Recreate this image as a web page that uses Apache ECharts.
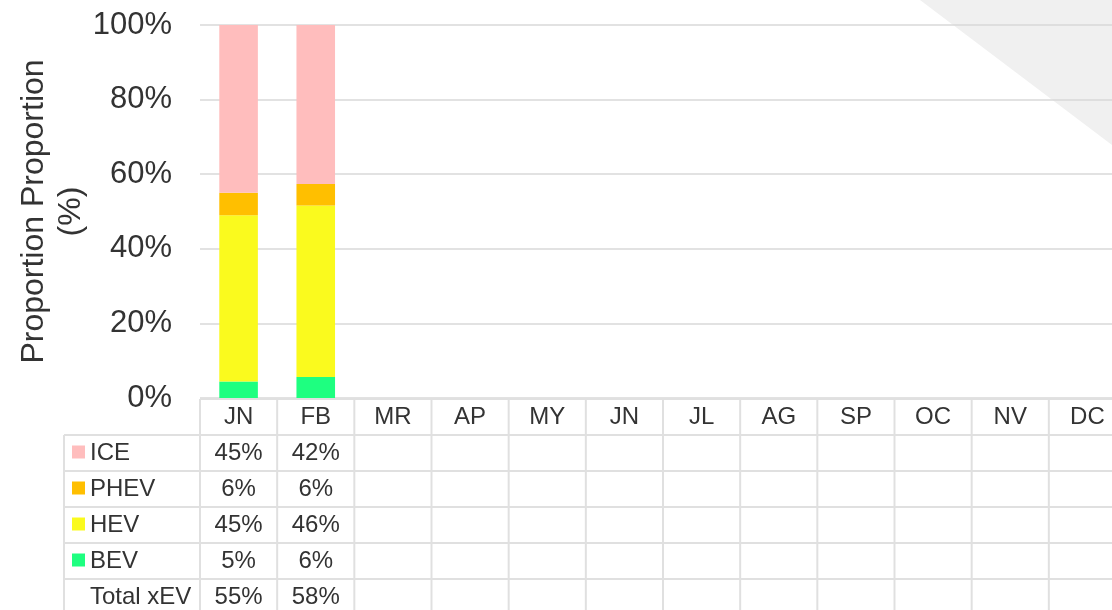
<!DOCTYPE html>
<html>
<head>
<meta charset="utf-8">
<title>xEV proportion</title>
<script src="https://cdn.jsdelivr.net/npm/echarts@6/dist/echarts.min.js"></script>
<style>
  html, body { margin: 0; padding: 0; background: #fff; }
  #wrap { position: relative; width: 1112px; height: 610px; overflow: hidden; }
  /* grey corner triangle, sits under the transparent chart canvas */
  #corner {
    position: absolute; left: 0; top: 0; width: 1112px; height: 610px;
    background: #f0f0f0;
    clip-path: polygon(920px 0, 1112px 0, 1112px 145px);
  }
  /* chart is a bit wider than the window: the last column is cut off */
  #main { position: absolute; left: 0; top: 0; width: 1128px; height: 610px; }
</style>
</head>
<body>
<div id="wrap">
  <div id="corner"></div>
  <div id="main"></div>
</div>
<script>
// months (categories)
var months = ['JN', 'FB', 'MR', 'AP', 'MY', 'JN', 'JL', 'AG', 'SP', 'OC', 'NV', 'DC'];
var yTicks = [0, 20, 40, 60, 80, 100];

// stacked shares (%), only JN and FB have data
var bev  = [4.4, 5.6];
var hev  = [44.6, 46.0];
var phev = [6.0, 5.8];
var ice  = [45.0, 42.6];

// table text, as printed under the chart
var iceText   = ['45%', '42%'];
var phevText  = ['6%', '6%'];
var hevText   = ['45%', '46%'];
var bevText   = ['5%', '6%'];
var totalText = ['55%', '58%'];

var colors = { ICE: '#ffbdbd', PHEV: '#ffbf00', HEV: '#fafa1e', BEV: '#1eff80' };
var font = '"Liberation Sans", Arial, sans-serif';
var textColor = '#333333';
var lineColor = '#e0e0e0';

var chart = echarts.init(document.getElementById('main'));

function barSeries(name, data) {
  return {
    name: name,
    type: 'bar',
    stack: 'share',
    barWidth: '50%',
    itemStyle: { color: colors[name] },
    data: data
  };
}

var option = {
  animation: false,
  backgroundColor: 'transparent',
  grid: { left: 200, top: 25, bottom: 212, right: 2 },
  xAxis: {
    type: 'category',
    data: months,
    axisLine: { show: false },
    axisTick: { show: false },
    axisLabel: {
      interval: 0,
      margin: 19,
      verticalAlign: 'middle',
      fontFamily: font,
      fontSize: 24,
      color: textColor
    }
  },
  yAxis: {
    type: 'value',
    min: 0,
    max: 100,
    interval: 20,
    name: 'Proportion Proportion\n(%)',
    nameLocation: 'middle',
    nameGap: 110,
    nameMoveOverlap: false,
    nameTextStyle: { fontFamily: font, fontSize: 32, lineHeight: 37, color: textColor },
    axisLabel: {
      margin: 28,
      fontFamily: font,
      fontSize: 31,
      color: textColor,
      formatter: function (v) { return yTicks.indexOf(v) >= 0 ? v + '%' : ''; }
    },
    splitLine: { lineStyle: { color: '#d9d9d9', width: 1.5 } }
  },
  series: [
    barSeries('BEV', bev),
    barSeries('HEV', hev),
    barSeries('PHEV', phev),
    barSeries('ICE', ice)
  ]
};
chart.setOption(option);

// data table under the plot, lined up with the category bands
function buildTable() {
  var x0 = chart.convertToPixel({ xAxisIndex: 0 }, 0);
  var x1 = chart.convertToPixel({ xAxisIndex: 0 }, 1);
  var bw = x1 - x0;
  var left = x0 - bw / 2;
  var right = left + bw * months.length;
  var top = chart.convertToPixel({ yAxisIndex: 0 }, 0) + 1;
  var rowH = 36;
  var labelLeft = 64;

  var rows = [
    { name: 'ICE', color: colors.ICE, text: iceText },
    { name: 'PHEV', color: colors.PHEV, text: phevText },
    { name: 'HEV', color: colors.HEV, text: hevText },
    { name: 'BEV', color: colors.BEV, text: bevText },
    { name: 'Total xEV', color: null, text: totalText }
  ];
  var bottom = top + rowH * (rows.length + 1);
  var els = [];
  var line = function (ax, ay, bx, by) {
    els.push({
      type: 'line', silent: true,
      shape: { x1: ax, y1: ay, x2: bx, y2: by },
      style: { stroke: lineColor, lineWidth: 2 }
    });
  };

  // horizontal rules
  line(left, top, right, top);
  for (var r = 1; r <= rows.length; r++) {
    line(labelLeft, top + rowH * r, right, top + rowH * r);
  }
  // vertical rules
  line(labelLeft, top + rowH, labelLeft, bottom);
  for (var c = 0; c <= months.length; c++) {
    line(left + bw * c, top, left + bw * c, bottom);
  }

  rows.forEach(function (row, i) {
    var cy = top + rowH * (i + 1) + rowH / 2;
    if (row.color) {
      els.push({
        type: 'rect', silent: true,
        shape: { x: 72, y: cy - 7.5, width: 13, height: 13 },
        style: { fill: row.color }
      });
    }
    els.push({
      type: 'text', silent: true,
      style: {
        x: 90, y: cy, text: row.name,
        fill: textColor, font: '24px ' + font,
        textAlign: 'left', textVerticalAlign: 'middle'
      }
    });
    row.text.forEach(function (t, j) {
      els.push({
        type: 'text', silent: true,
        style: {
          x: chart.convertToPixel({ xAxisIndex: 0 }, j), y: cy, text: t,
          fill: textColor, font: '24px ' + font,
          textAlign: 'center', textVerticalAlign: 'middle'
        }
      });
    });
  });

  chart.setOption({ graphic: els }, { replaceMerge: ['graphic'] });
}
buildTable();

window.addEventListener('resize', function () {
  chart.resize();
  buildTable();
});
</script>
</body>
</html>
